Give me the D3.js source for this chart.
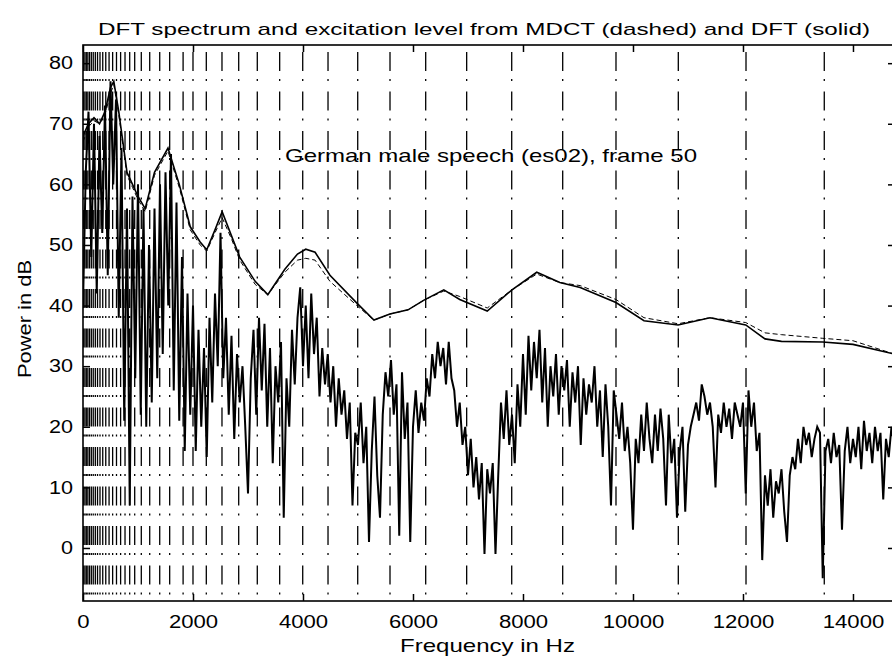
<!DOCTYPE html>
<html>
<head>
<meta charset="utf-8">
<script src="https://cdn.jsdelivr.net/npm/d3@7"></script>
<style>
    body { margin: 0; background: #fff; }
    svg { display: block; font-family: "Liberation Sans", Arial, sans-serif; }
</style>
</head>
<body>
<svg id="SVG_CONTAINER" width="892" height="663"></svg>
<script>
// plot box (right edge sits just past the window, like the cropped original)
const MARGIN = {
    "LEFT": 83,
    "RIGHT": -3,
    "TOP": 45,
    "BOTTOM": 62
};
const width = 892,
    height = 663;

//** DATA *****************************************
const xTickValues = [0, 2000, 4000, 6000, 8000, 10000, 12000, 14000];
const yTickValues = [0, 10, 20, 30, 40, 50, 60, 70, 80];

// band edges in Hz (dash-dot verticals)
const bandEdges = [10, 35, 60, 88, 118, 151, 186, 224, 264, 309, 359, 414, 474, 539, 609, 684, 764,
    849, 940, 1060, 1213, 1395, 1576, 1820, 2000, 2242, 2527, 2831, 3169, 3576, 3995, 4455, 4995,
    5582, 6231, 6976, 7795, 8722, 9691, 10824, 12055, 13478];

// DFT spectrum, one value every 50 Hz from 0 Hz
const specStepHz = 50;
const specDb = [
    40, 62, 72, 48, 70, 42, 68, 52, 73, 45, 77, 60, 74, 38, 66, 21, 56, 7, 58, 28,
    60, 22, 56, 20, 50, 24, 56, 28, 60, 32, 62, 40, 65, 26, 57, 21, 48, 16, 42, 22,
    40, 16, 36, 20, 33, 15, 38, 24, 42, 30, 52, 28, 38, 22, 35, 18, 32, 24, 30, 20,
    9, 28, 36, 22, 38, 26, 37, 20, 33, 14, 30, 24, 34, 5, 28, 20, 36, 27, 38, 43,
    30, 40, 28, 42, 32, 38, 25, 33, 27, 32, 24, 30, 20, 28, 22, 26, 18, 24, 7, 19,
    17, 24, 14, 20, 1, 16, 25, 12, 5, 22, 29, 25, 31, 22, 27, 2, 29, 18, 24, 1,
    20, 26, 19, 24, 21, 28, 25, 32, 28, 34, 30, 33, 27, 34, 28, 26, 20, 24, 17, 20,
    12, 18, 10, 15, 8, 14, -1, 13, 9, 14, -1, 12, 24, 18, 26, 17, 22, 14, 27, 20,
    32, 22, 35, 26, 34, 28, 36, 24, 33, 20, 30, 25, 32, 22, 30, 26, 31, 20, 29, 24,
    30, 17, 28, 22, 27, 24, 30, 20, 26, 15, 27, 20, 7, 26, 22, 18, 24, 16, 20, 14,
    3, 18, 14, 22, 16, 24, 18, 14, 22, 16, 23, 18, 7, 22, 14, 18, 5, 16, 20, 6,
    17, 20, 22, 24, 21, 27, 25, 22, 24, 20, 10, 22, 19, 24, 20, 23, 18, 24, 22, 20,
    24, 9, 26, 20, 24, 16, 19, -2, 12, 7, 13, 5, 11, 9, 13, 6, 1, 12, 15, 13,
    18, 14, 20, 17, 19, 15, 18, 20, 19, -5, 16, 18, 14, 19, 15, 17, 3, 16, 20, 14,
    18, 15, 20, 13, 21, 16, 19, 14, 20, 16, 19, 8, 18, 15, 20, 17
];

// excitation levels (smooth curves)
const excFreq = [0, 100, 200, 300, 400, 500, 560, 650, 800, 900, 1000, 1130, 1300, 1545, 1750, 1950,
    2130, 2250, 2400, 2530, 2700, 2850, 3130, 3360, 3670, 3900, 4050, 4220, 4490, 4980, 5290,
    5580, 5910, 6200, 6560, 6850, 7350, 7800, 8250, 8670, 9040, 9690, 10200, 10820, 11400,
    12050, 12400, 12700, 13450, 14000, 14750];
const excDft = [68, 70, 71, 70, 72, 76, 77, 72, 62, 60, 58, 56, 62, 66, 60, 53,
    50.5, 49.2, 52.5, 55.5, 51.5, 48, 44, 41.8, 46, 48.5, 49.3, 48.8, 45, 40.4, 37.6,
    38.6, 39.3, 40.9, 42.6, 41, 39.1, 42.6, 45.5, 43.8, 43, 40.5, 37.5, 36.8, 38,
    36.8, 34.5, 34.1, 34, 33.6, 32];
const excMdct = [67, 69.5, 70.5, 70, 71.5, 75, 76.5, 71.5, 61.5, 59.5, 57.5, 55.5, 61.5, 65.5, 59.5, 52.5,
    50, 49, 52, 54.5, 51, 47.5, 43.5, 41.8, 45.5, 47.5, 47.8, 47.5, 44, 40, 37.6,
    38.6, 39.3, 40.9, 42.4, 41.5, 39.6, 42.6, 45.2, 43.8, 43.3, 41, 38, 37, 38,
    37.2, 35.5, 35.2, 34.6, 34.2, 32];

//** SETUP *****************************************
const svg = d3.select("#SVG_CONTAINER");

const xScale = d3.scaleLinear()
    .domain([0, 14764])
    .range([MARGIN.LEFT, width - MARGIN.RIGHT]);

const yScale = d3.scaleLinear()
    .domain([-8.75, 83])
    .range([height - MARGIN.BOTTOM, MARGIN.TOP]);

const x0 = MARGIN.LEFT, x1 = width - MARGIN.RIGHT;
const y0 = MARGIN.TOP, y1 = height - MARGIN.BOTTOM;

svg.append("defs").append("clipPath")
    .attr("id", "plotClip")
    .append("rect")
    .attr("x", x0).attr("y", y0)
    .attr("width", x1 - x0).attr("height", y1 - y0);

const chart = svg.append("g").attr("clip-path", "url(#plotClip)");

//** BAND LINES *****************************************
chart.append("g")
    .attr("class", "bands")
    .selectAll("line")
    .data(bandEdges)
    .enter()
    .append("line")
    .attr("x1", d => xScale(d))
    .attr("x2", d => xScale(d))
    .attr("y1", y0)
    .attr("y2", y1)
    .attr("stroke", "#000")
    .attr("stroke-width", 1.3)
    .attr("stroke-dasharray", "19,8,2,10.5")
    .attr("stroke-dashoffset", 32.5);

//** SPECTRUM *****************************************
chart.append("path")
    .datum(specDb)
    .attr("d", d3.line()
        .x((d, i) => xScale(i * specStepHz))
        .y(d => yScale(d)))
    .attr("fill", "none")
    .attr("stroke", "#000")
    .attr("stroke-width", 2)
    .attr("stroke-linejoin", "miter");

//** EXCITATION *****************************************
chart.append("path")
    .datum(excMdct)
    .attr("d", d3.line()
        .x((d, i) => xScale(excFreq[i]))
        .y(d => yScale(d)))
    .attr("fill", "none")
    .attr("stroke", "#000")
    .attr("stroke-width", 1)
    .attr("stroke-dasharray", "5,3");

chart.append("path")
    .datum(excDft)
    .attr("d", d3.line()
        .x((d, i) => xScale(excFreq[i]))
        .y(d => yScale(d)))
    .attr("fill", "none")
    .attr("stroke", "#000")
    .attr("stroke-width", 1.6);

//** AXES *****************************************
function styleLabels(g, perChar) {
    g.select(".domain").remove();
    g.selectAll(".tick line").attr("stroke", "#000").attr("stroke-width", 1.5);
    g.selectAll(".tick text")
        .attr("fill", "#000")
        .style("font-size", "18px")
        .attr("textLength", function () { return this.textContent.length * perChar; })
        .attr("lengthAdjust", "spacingAndGlyphs");
}

svg.append("g")
    .attr("transform", "translate(0," + y1 + ")")
    .call(d3.axisBottom(xScale).tickValues(xTickValues).tickFormat(d3.format("d"))
        .tickSizeInner(-7).tickSizeOuter(0).tickPadding(14))
    .call(g => styleLabels(g, 12.3));

svg.append("g")
    .attr("transform", "translate(0," + y0 + ")")
    .call(d3.axisTop(xScale).tickValues(xTickValues).tickSizeInner(-7).tickSizeOuter(0).tickFormat(""))
    .call(g => styleLabels(g, 0));

svg.append("g")
    .attr("transform", "translate(" + x0 + ",0)")
    .call(d3.axisLeft(yScale).tickValues(yTickValues).tickFormat(d3.format("d"))
        .tickSizeInner(-7).tickSizeOuter(0).tickPadding(10))
    .call(g => styleLabels(g, 12));

svg.append("g")
    .attr("transform", "translate(" + x1 + ",0)")
    .call(d3.axisRight(yScale).tickValues(yTickValues).tickSizeInner(-7).tickSizeOuter(0).tickFormat(""))
    .call(g => styleLabels(g, 0));

// box
svg.append("rect")
    .attr("x", x0).attr("y", y0)
    .attr("width", x1 - x0).attr("height", y1 - y0)
    .attr("fill", "none")
    .attr("stroke", "#000")
    .attr("stroke-width", 1.6);

//** TEXTS *****************************************
svg.append("text")
    .attr("x", 98)
    .attr("y", 35)
    .attr("textLength", 772)
    .attr("lengthAdjust", "spacingAndGlyphs")
    .style("font-size", "17px")
    .text("DFT spectrum and excitation level from MDCT (dashed) and DFT (solid)");

svg.append("text")
    .attr("x", 285)
    .attr("y", 162)
    .attr("textLength", 412)
    .attr("lengthAdjust", "spacingAndGlyphs")
    .style("font-size", "19px")
    .text("German male speech (es02), frame 50");

svg.append("text")
    .attr("x", 400)
    .attr("y", 652)
    .attr("textLength", 175)
    .attr("lengthAdjust", "spacingAndGlyphs")
    .style("font-size", "19px")
    .text("Frequency in Hz");

svg.append("text")
    .attr("transform", "translate(31,378) rotate(-90)")
    .attr("x", 0)
    .attr("y", 0)
    .attr("textLength", 118)
    .attr("lengthAdjust", "spacingAndGlyphs")
    .style("font-size", "18px")
    .text("Power in dB");
</script>
</body>
</html>
